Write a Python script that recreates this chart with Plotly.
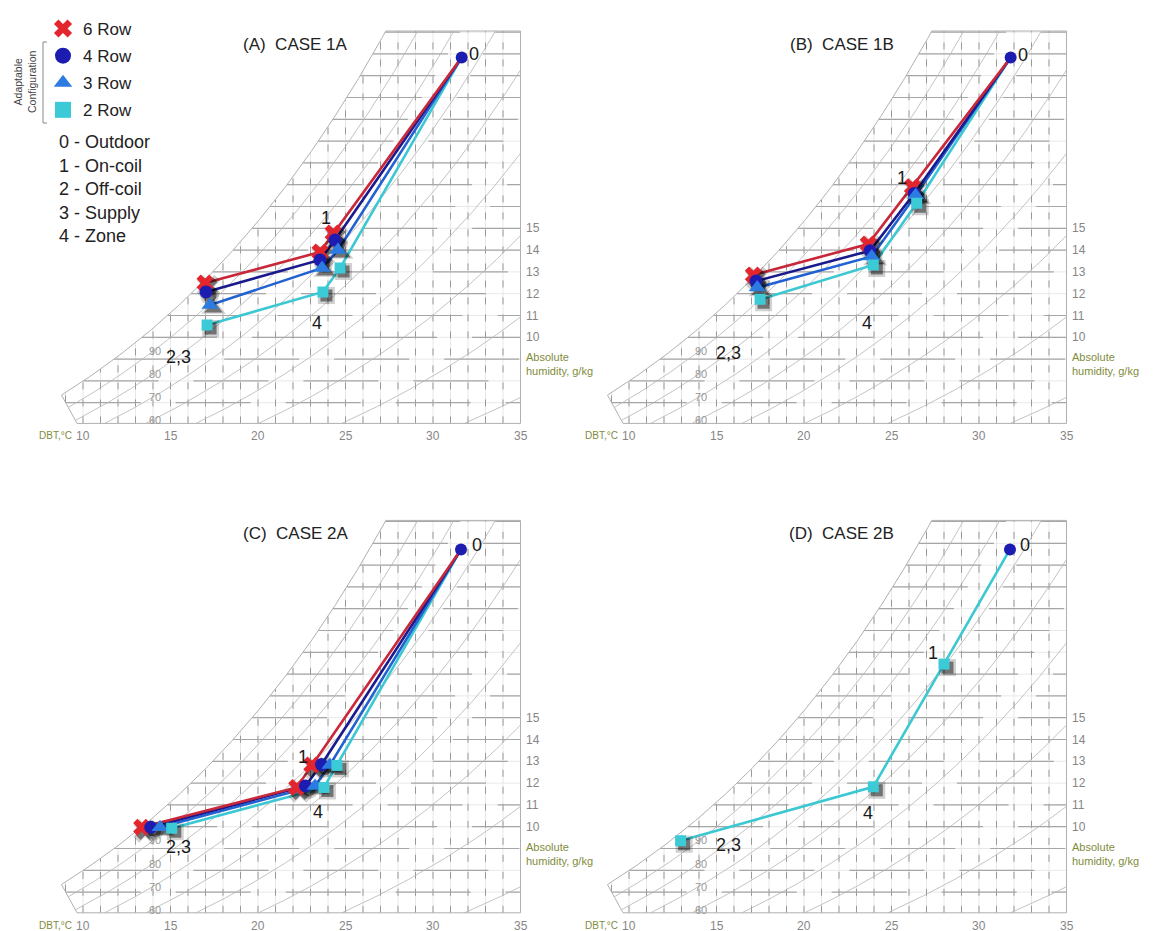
import numpy as np
import plotly.graph_objects as go

# ------------------------------------------------------------------
# Data
# DBT in degC, absolute humidity in g/kg
# each path is drawn 0 (outdoor) -> 1 (on-coil) -> 4 (zone) -> 2,3 (off-coil / supply)
# ------------------------------------------------------------------
SERIES_NAMES = ["6 Row", "4 Row", "3 Row", "2 Row"]
PANEL_TITLES = ["(A)  CASE 1A", "(B)  CASE 1B", "(C)  CASE 2A", "(D)  CASE 2B"]
STATE_LABELS = ["0", "1", "4", "2,3"]
KEY_LINES = ["0 - Outdoor", "1 - On-coil", "2 - Off-coil", "3 - Supply", "4 - Zone"]

outdoor_dbt = [31.64, 31.81, 31.60, 31.77]
outdoor_hum = [22.84, 22.83, 22.72, 22.72]

# states 1, 4, 2/3
case1a_6row_dbt = [24.29, 23.54, 16.97]
case1a_6row_hum = [14.78, 13.91, 12.49]
case1a_4row_dbt = [24.40, 23.54, 17.03]
case1a_4row_hum = [14.46, 13.55, 12.08]
case1a_3row_dbt = [24.57, 23.66, 17.26]
case1a_3row_hum = [14.00, 13.18, 11.48]
case1a_2row_dbt = [24.69, 23.71, 17.09]
case1a_2row_hum = [13.18, 12.08, 10.56]

case1b_6row_dbt = [26.19, 23.67, 17.10]
case1b_6row_hum = [16.91, 14.28, 12.86]
case1b_4row_dbt = [26.30, 23.77, 17.26]
case1b_4row_hum = [16.60, 13.97, 12.58]
case1b_3row_dbt = [26.38, 23.87, 17.33]
case1b_3row_hum = [16.52, 13.71, 12.28]
case1b_2row_dbt = [26.44, 23.96, 17.49]
case1b_2row_hum = [16.15, 13.32, 11.74]

case2a_6row_dbt = [23.07, 22.21, 13.35]
case2a_6row_hum = [12.83, 11.80, 9.97]
case2a_4row_dbt = [23.63, 22.71, 13.87]
case2a_4row_hum = [12.85, 11.87, 9.97]
case2a_3row_dbt = [24.11, 23.26, 14.40]
case2a_3row_hum = [12.83, 11.87, 9.97]
case2a_2row_dbt = [24.51, 23.77, 15.07]
case2a_2row_hum = [12.81, 11.80, 9.93]

case2b_2row_dbt = [28.00, 23.96, 12.95]
case2b_2row_hum = [17.46, 11.83, 9.36]

PANEL_SERIES = [
    {"6 Row": (case1a_6row_dbt, case1a_6row_hum), "4 Row": (case1a_4row_dbt, case1a_4row_hum),
     "3 Row": (case1a_3row_dbt, case1a_3row_hum), "2 Row": (case1a_2row_dbt, case1a_2row_hum)},
    {"6 Row": (case1b_6row_dbt, case1b_6row_hum), "4 Row": (case1b_4row_dbt, case1b_4row_hum),
     "3 Row": (case1b_3row_dbt, case1b_3row_hum), "2 Row": (case1b_2row_dbt, case1b_2row_hum)},
    {"6 Row": (case2a_6row_dbt, case2a_6row_hum), "4 Row": (case2a_4row_dbt, case2a_4row_hum),
     "3 Row": (case2a_3row_dbt, case2a_3row_hum), "2 Row": (case2a_2row_dbt, case2a_2row_hum)},
    {"2 Row": (case2b_2row_dbt, case2b_2row_hum)},
]

# chart scale
X_TICKS = [10, 15, 20, 25, 30, 35]
Y_TICKS = [10, 11, 12, 13, 14, 15]
RH_LEVELS = [10, 20, 30, 40, 50, 60, 70, 80, 90]
RH_LABELS = [90, 80, 70, 60]

# ------------------------------------------------------------------
# layout / style
# ------------------------------------------------------------------
W, H = 1164, 931
OFF = 8                                    # page body margin of the html page
PX_C, PX_G = 17.5, 21.8                    # px per degC, px per g/kg
ORIGINS = [(83 - OFF, 337.3 - OFF), (629 - OFF, 337.3 - OFF),
           (83 - OFF, 826.7 - OFF), (629 - OFF, 826.7 - OFF)]   # figure pixel of (10 degC, 10 g/kg)
X_RANGE = [5.9, 36.2]
Y_RANGE = [5.9, 25.0]
W_BOT, W_TOP, T_RIGHT = 6.05, 24.05, 35.0
W_CORNER, T_BOT_CORNER = 7.35, 9.66
SHIFT, P_ATM = 0.7, 101.325

FONT = "Arial, Liberation Sans, sans-serif"
OLIVE = "#7f8c3c"
NUMGRAY = "#868686"
LINE_COL = {"6 Row": "#c8283a", "4 Row": "#1a1a8e", "3 Row": "#2261d2", "2 Row": "#3cc8d2"}
MARK = {
    "6 Row": dict(symbol="x", size=15, color="#e3262e"),
    "4 Row": dict(symbol="circle", size=13, color="#1c1cb0"),
    "3 Row": dict(symbol="triangle-up", size=15, color="#2b7be0"),
    "2 Row": dict(symbol="square", size=11, color="#3ccbd6"),
}
LABEL_POS = [
    {"0": (32.34, 23.0), "1": (23.89, 15.47), "4": (23.35, 10.64), "2,3": (15.45, 9.11)},
    {"0": (32.53, 22.95), "1": (25.58, 17.29), "4": (23.58, 10.64), "2,3": (15.66, 9.28)},
    {"0": (32.50, 22.92), "1": (22.59, 13.21), "4": (23.45, 10.69), "2,3": (15.45, 9.06)},
    {"0": (32.63, 22.92), "1": (27.35, 17.95), "4": (23.67, 10.61), "2,3": (15.67, 9.16)},
]


def px(x):
    return (x - OFF) / W


def py(y):
    return 1 - (y - OFF) / H


def w_rh(T, rh):
    Tt = np.asarray(T, float) + SHIFT
    ps = 0.6112 * np.exp(17.62 * Tt / (243.12 + Tt))
    pv = rh / 100.0 * ps
    return 622.0 * pv / (P_ATM - pv)


def t_sat(w):
    w = np.asarray(w, float)
    pw = w * P_ATM / (622.0 + w)
    a = np.log(pw / 0.6112)
    return 243.12 * a / (17.62 - a) - SHIFT


T_CORNER = float(t_sat(W_CORNER))


def t_left(w):
    w = np.asarray(w, float)
    slant = T_CORNER + (W_CORNER - w) / (W_CORNER - W_BOT) * (T_BOT_CORNER - T_CORNER)
    return np.where(w >= W_CORNER, t_sat(np.maximum(w, 1.0)), slant)


def w_low(T):
    if T >= T_BOT_CORNER:
        return W_BOT
    return W_CORNER - (T - T_CORNER) / (T_BOT_CORNER - T_CORNER) * (W_CORNER - W_BOT)


fig = go.Figure()
annotations = []

for p in range(4):
    xa = "x" if p == 0 else f"x{p + 1}"
    ya = "y" if p == 0 else f"y{p + 1}"
    ox, oy = ORIGINS[p]
    x0 = (ox + (X_RANGE[0] - 10) * PX_C) / W
    x1 = (ox + (X_RANGE[1] - 10) * PX_C) / W
    ybot = 1 - (oy - (Y_RANGE[0] - 10) * PX_G) / H
    ytop = 1 - (oy - (Y_RANGE[1] - 10) * PX_G) / H
    fig.layout[("xaxis" if p == 0 else f"xaxis{p + 1}")] = dict(
        domain=[x0, x1], range=X_RANGE, visible=False, fixedrange=True, anchor=ya)
    fig.layout[("yaxis" if p == 0 else f"yaxis{p + 1}")] = dict(
        domain=[ybot, ytop], range=Y_RANGE, visible=False, fixedrange=True, anchor=xa)

    # ---------------- background psychrometric grid ----------------
    gx, gy = [], []          # faint full grid
    vx, vy = [], []          # dashed verticals
    hx, hy = [], []          # broken horizontals
    for T in range(9, 35):
        lo = w_low(T)
        hi = min(float(w_rh(T, 100)), W_TOP)
        if hi > lo:
            gx += [T, T, None]; gy += [lo, hi, None]
            vx += [T, T, None]; vy += [lo, hi, None]
    for wv in range(7, 25):
        if wv > W_TOP:
            continue
        tl = float(t_left(wv))
        gx += [tl, T_RIGHT, None]; gy += [wv, wv, None]
        hx += [tl, T_RIGHT, None]; hy += [wv, wv, None]
    fig.add_trace(go.Scatter(x=gx, y=gy, mode="lines", line=dict(color="#e2e2e2", width=0.8),
                             hoverinfo="skip", showlegend=False, xaxis=xa, yaxis=ya))
    fig.add_trace(go.Scatter(x=vx, y=vy, mode="lines",
                             line=dict(color="#999999", width=1, dash="7px,10px"),
                             hoverinfo="skip", showlegend=False, xaxis=xa, yaxis=ya))
    fig.add_trace(go.Scatter(x=hx, y=hy, mode="lines",
                             line=dict(color="#a6a6a6", width=1.2, dash="75px,35px"),
                             hoverinfo="skip", showlegend=False, xaxis=xa, yaxis=ya))

    # RH curves
    rx, ry = [], []
    Ts = np.linspace(7.0, 35.0, 1121)
    for rh in RH_LEVELS:
        ws = w_rh(Ts, rh)
        ok = (ws >= W_BOT) & (ws <= W_TOP) & (Ts >= t_left(ws))
        prev = False
        for T, wv, m in zip(Ts, ws, ok):
            if m:
                rx.append(float(T)); ry.append(float(wv))
            elif prev:
                rx.append(None); ry.append(None)
            prev = m
        rx.append(None); ry.append(None)
    fig.add_trace(go.Scatter(x=rx, y=ry, mode="lines", line=dict(color="#b4b4b4", width=0.8),
                             hoverinfo="skip", showlegend=False, xaxis=xa, yaxis=ya))

    # frame: saturation curve + edges
    wsat = np.linspace(W_CORNER, W_TOP, 200)
    fx = list(t_sat(wsat)) + [T_RIGHT, T_RIGHT, T_BOT_CORNER, T_CORNER]
    fy = list(wsat) + [W_TOP, W_BOT, W_BOT, W_CORNER]
    fig.add_trace(go.Scatter(x=fx, y=fy, mode="lines", line=dict(color="#b0b0b0", width=1),
                             hoverinfo="skip", showlegend=False, xaxis=xa, yaxis=ya))

    # ---------------- process lines ----------------
    series = PANEL_SERIES[p]
    order_lines = [s for s in ["2 Row", "3 Row", "4 Row", "6 Row"] if s in series]
    for s in order_lines:
        dbt, hum = series[s]
        fig.add_trace(go.Scatter(x=[outdoor_dbt[p]] + dbt, y=[outdoor_hum[p]] + hum, mode="lines",
                                 line=dict(color=LINE_COL[s], width=2.6),
                                 hoverinfo="skip", showlegend=False, xaxis=xa, yaxis=ya))
    # shadows
    dx, dy = 3.5 / PX_C, -3.5 / PX_G
    for s in order_lines:
        dbt, hum = series[s]
        m = MARK[s]
        fig.add_trace(go.Scatter(x=[v + dx for v in dbt], y=[v + dy for v in hum], mode="markers",
                                 marker=dict(symbol=m["symbol"], size=m["size"] + 6,
                                             color="rgba(0,0,0,0.18)"),
                                 hoverinfo="skip", showlegend=False, xaxis=xa, yaxis=ya))
        fig.add_trace(go.Scatter(x=[v + dx for v in dbt], y=[v + dy for v in hum], mode="markers",
                                 marker=dict(symbol=m["symbol"], size=m["size"] + 1,
                                             color="rgba(0,0,0,0.45)"),
                                 hoverinfo="skip", showlegend=False, xaxis=xa, yaxis=ya))
    for s in [s for s in SERIES_NAMES if s in series]:
        dbt, hum = series[s]
        m = MARK[s]
        fig.add_trace(go.Scatter(x=dbt, y=hum, mode="markers",
                                 marker=dict(symbol=m["symbol"], size=m["size"], color=m["color"],
                                             line=dict(width=0)),
                                 name=s, showlegend=False, xaxis=xa, yaxis=ya))
    fig.add_trace(go.Scatter(x=[outdoor_dbt[p]], y=[outdoor_hum[p]], mode="markers",
                             marker=dict(symbol="circle", size=12, color="#1c1cb0"),
                             name="Outdoor", showlegend=False, xaxis=xa, yaxis=ya))

    # ---------------- texts ----------------
    annotations.append(dict(x=22.15, y=23.45, xref=xa, yref=ya, text=PANEL_TITLES[p], showarrow=False,
                            font=dict(family=FONT, size=17, color="#222")))
    for t in X_TICKS:
        annotations.append(dict(x=t, y=W_BOT, xref=xa, yref=ya, text=str(t), showarrow=False,
                                yanchor="top", yshift=-4, font=dict(family=FONT, size=12, color=NUMGRAY)))
    annotations.append(dict(x=10, y=W_BOT, xref=xa, yref=ya, text="DBT,\u00b0C", showarrow=False,
                            xanchor="right", yanchor="top", xshift=-9, yshift=-5,
                            font=dict(family=FONT, size=10, color=OLIVE)))
    for v in Y_TICKS:
        annotations.append(dict(x=T_RIGHT, y=v, xref=xa, yref=ya, text=str(v), showarrow=False,
                                xanchor="left", xshift=3, font=dict(family=FONT, size=12, color=NUMGRAY)))
    annotations.append(dict(x=T_RIGHT, y=9.45, xref=xa, yref=ya, text="Absolute<br>humidity, g/kg",
                            showarrow=False, xanchor="left", yanchor="top", align="left", xshift=3,
                            font=dict(family=FONT, size=11, color=OLIVE)))
    for rh in RH_LABELS:
        annotations.append(dict(x=14.1, y=float(w_rh(14.1, rh)) - 0.05, xref=xa, yref=ya, text=str(rh),
                                showarrow=False, font=dict(family=FONT, size=11, color="#989898")))
    for lab in STATE_LABELS:
        lx, ly = LABEL_POS[p][lab]
        annotations.append(dict(x=lx, y=ly, xref=xa, yref=ya, text=lab, showarrow=False,
                                font=dict(family=FONT, size=18, color="#1a1a1a")))

# ---------------- legend ----------------
for s in SERIES_NAMES:
    m = MARK[s]
    fig.add_trace(go.Scatter(x=[None], y=[None], mode="markers", name=s, legendgroup=s,
                             marker=dict(symbol=m["symbol"], size=m["size"] + 5, color=m["color"]),
                             xaxis="x", yaxis="y"))
for i, t in enumerate(KEY_LINES):
    annotations.append(dict(x=px(57), y=py(142 + i * 23.5), xref="paper", yref="paper", text=t,
                            showarrow=False, xanchor="left", yanchor="middle",
                            font=dict(family=FONT, size=18, color="#222")))
annotations.append(dict(x=px(25), y=py(82), xref="paper", yref="paper", text="Adaptable<br>Configuration",
                        showarrow=False, textangle=-90, xanchor="center", yanchor="middle",
                        font=dict(family=FONT, size=10.5, color="#444")))

fig.update_layout(
    width=W, height=H, margin=dict(l=0, r=0, t=0, b=0),
    paper_bgcolor="white", plot_bgcolor="white",
    annotations=annotations,
    shapes=[dict(type="path", xref="paper", yref="paper", line=dict(color="#888", width=1),
                 path=f"M {px(47)} {py(42)} L {px(43)} {py(42)} L {px(43)} {py(123)} L {px(47)} {py(123)}")],
    legend=dict(x=px(43), y=py(11), xanchor="left", yanchor="top", bgcolor="rgba(0,0,0,0)",
                font=dict(family=FONT, size=17, color="#222"), itemsizing="trace", tracegroupgap=2),
    showlegend=True,
)

fig.write_html("out.html")
